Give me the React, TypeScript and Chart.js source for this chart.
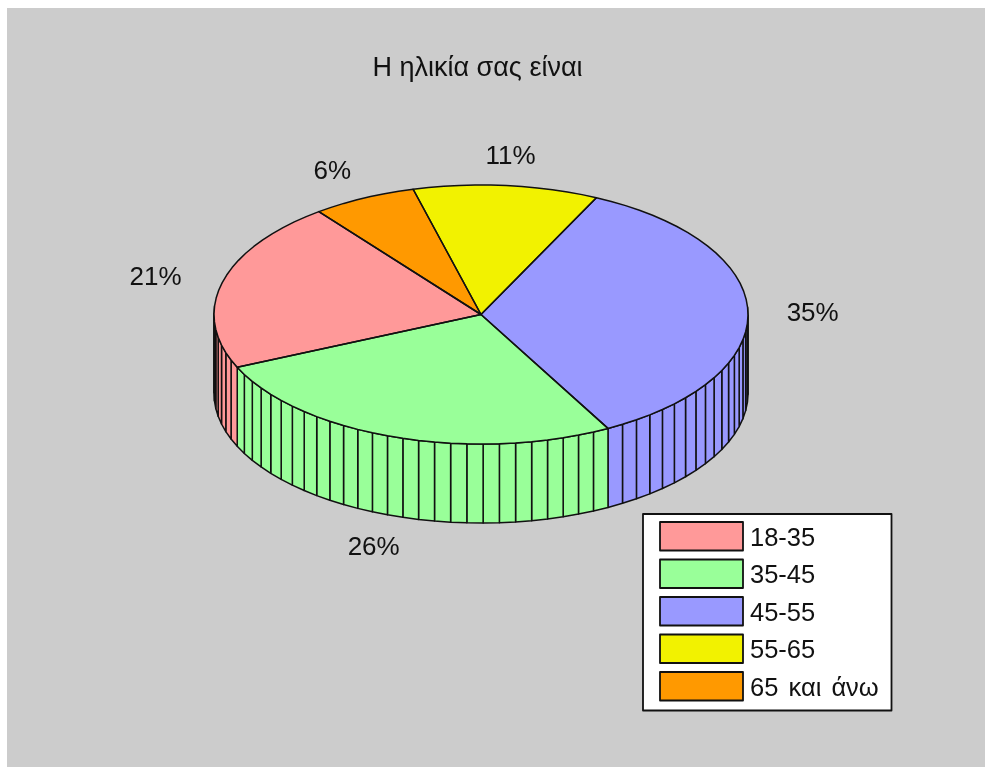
import React, { useEffect, useRef } from "react";
import { Chart, registerables } from "chart.js";

Chart.register(...registerables);

const titleText = "Η ηλικία σας είναι";
const categories = ["18-35", "35-45", "45-55", "55-65", "65 και άνω"];
const shares = [21.3, 26.2, 35.0, 11.2, 6.3];
const percentLabels = ["21%", "26%", "35%", "11%", "6%"];
const sliceColors = ["#FF9999", "#99FF99", "#9999FF", "#F2F200", "#FF9900"];

const FONT = "'Liberation Sans', Arial, sans-serif";
const CX = 474;
const CY = 306.5;
const RX = 267;
const SQUASH = 129.5 / 267;
const DEPTH = 79;
const LINE = "#111111";
const LINE_W = 1.5;

type Arc = { x: number; y: number; startAngle: number; endAngle: number; outerRadius: number };

const arcsOf = (chart: any): Arc[] =>
  chart
    .getDatasetMeta(0)
    .data.map((a: any) => a.getProps(["x", "y", "startAngle", "endAngle", "outerRadius"], true));

const facetsOf = (a: Arc) =>
  Math.max(1, Math.ceil((100 * (a.endAngle - a.startAngle)) / (2 * Math.PI) - 1e-6));

const pt = (a: Arc, t: number, z = 0): [number, number] => [
  CX + a.outerRadius * Math.cos(t),
  CY + a.outerRadius * SQUASH * Math.sin(t) + z,
];

const pie3d = {
  id: "pie3d",
  beforeDatasetsDraw(chart: any) {
    const ctx = chart.ctx;
    const arcs = arcsOf(chart);
    const bgs = chart.data.datasets[0].backgroundColor;
    ctx.save();
    ctx.lineWidth = LINE_W;
    ctx.strokeStyle = LINE;
    ctx.lineJoin = "round";
    arcs.forEach((a, i) => {
      const n = facetsOf(a);
      const step = (a.endAngle - a.startAngle) / n;
      for (let k = 0; k < n; k++) {
        const t0 = a.startAngle + k * step;
        const t1 = t0 + step;
        if (Math.sin(t0) < -0.02 && Math.sin(t1) < -0.02) continue;
        const p0 = pt(a, t0);
        const p1 = pt(a, t1);
        ctx.beginPath();
        ctx.moveTo(p0[0], p0[1]);
        ctx.lineTo(p1[0], p1[1]);
        ctx.lineTo(p1[0], p1[1] + DEPTH);
        ctx.lineTo(p0[0], p0[1] + DEPTH);
        ctx.closePath();
        ctx.fillStyle = bgs[i];
        ctx.fill();
        ctx.stroke();
      }
    });
    ctx.restore();
    const first = arcs[0];
    ctx.save();
    ctx.translate(CX, CY);
    ctx.scale(1, SQUASH);
    ctx.translate(-first.x, -first.y);
  },
  afterDatasetsDraw(chart: any) {
    const ctx = chart.ctx;
    ctx.restore();
    const arcs = arcsOf(chart);
    ctx.save();
    ctx.lineWidth = LINE_W;
    ctx.strokeStyle = LINE;
    ctx.lineJoin = "round";
    arcs.forEach((a) => {
      const n = facetsOf(a);
      const step = (a.endAngle - a.startAngle) / n;
      ctx.beginPath();
      ctx.moveTo(CX, CY);
      for (let k = 0; k <= n; k++) {
        const p = pt(a, a.startAngle + k * step);
        ctx.lineTo(p[0], p[1]);
      }
      ctx.closePath();
      ctx.stroke();
    });

    // percentage labels, placed from each slice's own arc
    ctx.fillStyle = "#111111";
    ctx.font = `26px ${FONT}`;
    ctx.textAlign = "center";
    ctx.textBaseline = "middle";
    const texts = [...percentLabels].reverse();
    arcs.forEach((a, i) => {
      const mid = (a.startAngle + a.endAngle) / 2;
      const s = Math.sin(mid);
      const x = CX + 1.25 * a.outerRadius * Math.cos(mid) - (s > 0 ? 0 : 2);
      const y = CY + 1.25 * a.outerRadius * SQUASH * s + (s > 0 ? DEPTH + 1.5 : 3);
      ctx.fillText(texts[i], x, y);
    });

    // legend
    const boxL = 636;
    const boxT = 506;
    ctx.fillStyle = "#FFFFFF";
    ctx.fillRect(boxL, boxT, 248.5, 196.5);
    ctx.lineWidth = 1.8;
    ctx.strokeRect(boxL, boxT, 248.5, 196.5);
    ctx.textAlign = "left";
    ctx.font = `25.5px ${FONT}`;
    ctx.wordSpacing = "3px";
    categories.forEach((c, i) => {
      const top = boxT + 8 + i * 37.5;
      ctx.fillStyle = sliceColors[i];
      ctx.fillRect(boxL + 17, top, 83, 28.5);
      ctx.lineWidth = 1.8;
      ctx.strokeStyle = LINE;
      ctx.strokeRect(boxL + 17, top, 83, 28.5);
      ctx.fillStyle = "#111111";
      ctx.fillText(c, boxL + 107, top + 16.5);
    });
    ctx.wordSpacing = "0px";
    ctx.restore();
  },
};

export default function App() {
  const ref = useRef<HTMLCanvasElement | null>(null);
  useEffect(() => {
    if (!ref.current) return;
    const chart = new Chart(ref.current, {
      type: "pie",
      data: {
        labels: [...categories].reverse(),
        datasets: [
          {
            data: [...shares].reverse(),
            backgroundColor: [...sliceColors].reverse(),
            borderWidth: 0,
            clip: false,
          } as any,
        ],
      },
      options: {
        responsive: false,
        animation: false,
        events: [],
        rotation: -37.4,
        radius: RX,
        layout: { padding: { right: 37, bottom: 230 } },
        plugins: {
          legend: { display: false },
          tooltip: { enabled: false },
          title: {
            display: true,
            text: titleText,
            color: "#111111",
            font: { family: FONT, size: 27, weight: "normal" },
            padding: { top: 44, bottom: 20 },
          },
        },
      } as any,
      plugins: [pie3d],
    });
    return () => chart.destroy();
  }, []);
  return (
    <canvas
      ref={ref}
      width={978}
      height={759}
      style={{
        position: "absolute",
        left: 7,
        top: 8,
        width: 978,
        height: 759,
        display: "block",
        background: "#CCCCCC",
        filter: "blur(0.45px)",
      }}
    />
  );
}
